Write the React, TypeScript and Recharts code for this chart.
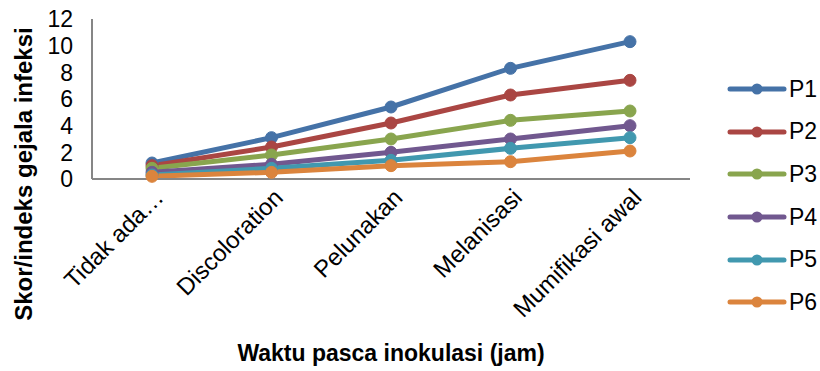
import React from "react";
import { LineChart, Line, XAxis, YAxis, Legend } from "recharts";

const categories = ["Tidak ada…", "Discoloration", "Pelunakan", "Melanisasi", "Mumifikasi awal"];
const P1 = [1.2, 3.1, 5.4, 8.3, 10.3];
const P2 = [1.0, 2.4, 4.2, 6.3, 7.4];
const P3 = [0.8, 1.8, 3.0, 4.4, 5.1];
const P4 = [0.5, 1.1, 2.0, 3.0, 4.0];
const P5 = [0.3, 0.8, 1.4, 2.3, 3.1];
const P6 = [0.2, 0.5, 1.0, 1.3, 2.1];
const yTicks = [0, 2, 4, 6, 8, 10, 12];

const seriesNames = ["P1", "P2", "P3", "P4", "P5", "P6"];
const seriesValues = [P1, P2, P3, P4, P5, P6];
const colors = ["#4572A7", "#AA4643", "#89A54E", "#71588F", "#4198AF", "#DB843D"];

const data = categories.map((c, i) => {
  const row: Record<string, string | number> = { cat: c };
  seriesNames.forEach((n, k) => (row[n] = seriesValues[k][i]));
  return row;
});

const FONT = "'Liberation Sans', Arial, sans-serif";

const XTick = (props: any) => {
  const { x, y, payload } = props;
  const ax = x + 13;
  const ay = y + 12;
  return (
    <text
      x={ax}
      y={ay}
      textAnchor="end"
      transform={`rotate(-45, ${ax}, ${ay})`}
      fontSize={24}
      fontFamily={FONT}
      fill="#000"
    >
      {payload.value}
    </text>
  );
};

const YTick = (props: any) => {
  const { y, payload } = props;
  return (
    <text x={73} y={y} dy="0.36em" textAnchor="end" fontSize={23} fontFamily={FONT} fill="#000">
      {payload.value}
    </text>
  );
};

const LegendContent = () => (
  <div style={{ fontFamily: FONT, fontSize: 23 }}>
    {seriesNames.map((n, i) => (
      <div key={n} style={{ display: "flex", alignItems: "center", height: 42.6 }}>
        <svg width={60} height={12} style={{ display: "block" }}>
          <line x1={3} y1={6} x2={57} y2={6} stroke={colors[i]} strokeWidth={5} strokeLinecap="round" />
          <circle cx={30} cy={6} r={5.5} fill={colors[i]} />
        </svg>
        <span style={{ color: "#000", marginLeft: 2, lineHeight: "23px" }}>{n}</span>
      </div>
    ))}
  </div>
);

export default function App() {
  return (
    <LineChart
      width={820}
      height={371}
      data={data}
      margin={{ top: 19, right: 130, bottom: 0, left: 0 }}
      style={{ position: "absolute", left: 0, top: 0 }}
    >
      <XAxis
        dataKey="cat"
        height={192}
        interval={0}
        padding={{ left: 60, right: 60 }}
        tickLine={false}
        axisLine={{ stroke: "#868686", strokeWidth: 2 }}
        tick={<XTick />}
        label={() => (
          <text
            x={391}
            y={361}
            textAnchor="middle"
            fontSize={23}
            fontWeight="bold"
            fontFamily={FONT}
            fill="#000"
          >
            Waktu pasca inokulasi (jam)
          </text>
        )}
      />
      <YAxis
        width={92}
        domain={[0, 12]}
        ticks={yTicks}
        interval={0}
        tickLine={false}
        axisLine={{ stroke: "#868686", strokeWidth: 2 }}
        tick={<YTick />}
        label={() => (
          <text
            x={32}
            y={174}
            textAnchor="middle"
            transform="rotate(-90, 32, 174)"
            fontSize={24}
            fontWeight="bold"
            fontFamily={FONT}
            fill="#000"
          >
            Skor/indeks gejala infeksi
          </text>
        )}
      />
      <Legend
        layout="vertical"
        align="center"
        verticalAlign="middle"
        content={<LegendContent />}
        wrapperStyle={{ position: "absolute", left: 727, top: 68, width: 93 }}
      />
      {seriesNames.map((n, i) => (
        <Line
          key={n}
          dataKey={n}
          stroke={colors[i]}
          strokeWidth={5}
          dot={{ r: 6, fill: colors[i], stroke: colors[i], strokeWidth: 1 }}
          activeDot={false}
          isAnimationActive={false}
        />
      ))}
    </LineChart>
  );
}
